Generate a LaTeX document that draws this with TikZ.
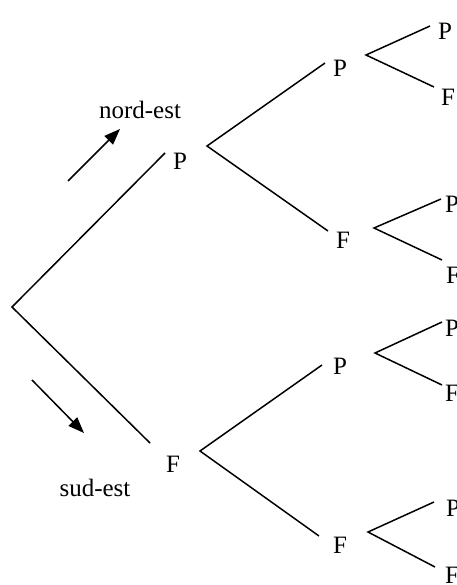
\documentclass[tikz,border=0pt]{standalone}
\usepackage{fontspec}
\setmainfont{Liberation Serif}
\usetikzlibrary{arrows.meta}
\begin{document}
\begin{tikzpicture}[x=1pt,y=-1pt,
  lbl/.style={inner sep=0pt,font=\fontsize{25}{30}\selectfont},
  branch/.style={line width=1.5pt},
  dirarrow/.style={line width=1.5pt,-{Triangle[length=16pt,width=12pt]}}]
\useasboundingbox (0,0) rectangle (456,585);
% root
\coordinate (r) at (12,307);
% level 1
\node[lbl] (P1) at (180,161) {P};
\node[lbl] (F1) at (173,464) {F};
\coordinate (P1in) at (165,153);
\coordinate (P1out) at (207,146);
\coordinate (F1in) at (150,443);
\coordinate (F1out) at (200,451);
% level 2
\node[lbl] (PP) at (340,68) {P};
\node[lbl] (PF) at (343,240) {F};
\node[lbl] (FP) at (340,366) {P};
\node[lbl] (FF) at (340,545) {F};
\coordinate (PPin) at (325,63);
\coordinate (PFin) at (328,231);
\coordinate (FPin) at (322,365);
\coordinate (FFin) at (319,536);
\coordinate (PPout) at (366,55);
\coordinate (PFout) at (374,228);
\coordinate (FPout) at (375,353);
\coordinate (FFout) at (368,532);
% level 3
\node[lbl] (PPP) at (445,31) {P};
\node[lbl] (PPF) at (448,97) {F};
\node[lbl] (PFP) at (452,204) {P};
\node[lbl] (PFF) at (453,275) {F};
\node[lbl] (FPP) at (452,328) {P};
\node[lbl] (FPF) at (452,393) {F};
\node[lbl] (FFP) at (453,508) {P};
\node[lbl] (FFF) at (452,575) {F};
\coordinate (PPPin) at (430,26);
\coordinate (PPFin) at (434,87);
\coordinate (PFPin) at (441,199);
\coordinate (PFFin) at (442,260);
\coordinate (FPPin) at (442,322);
\coordinate (FPFin) at (442,385);
\coordinate (FFPin) at (434,502);
\coordinate (FFFin) at (435,567);
% branches
\draw[branch] (P1in) -- (r) -- (F1in);
\draw[branch] (PPin) -- (P1out) -- (PFin);
\draw[branch] (FPin) -- (F1out) -- (FFin);
\draw[branch] (PPPin) -- (PPout) -- (PPFin);
\draw[branch] (PFPin) -- (PFout) -- (PFFin);
\draw[branch] (FPPin) -- (FPout) -- (FPFin);
\draw[branch] (FFPin) -- (FFout) -- (FFFin);
% direction arrows
\node[lbl] (ne) at (140,110) {nord-est};
\node[lbl] (se) at (95,488) {sud-est};
\coordinate (neA) at (68,181);
\coordinate (neB) at (120,129);
\coordinate (seA) at (32,380);
\coordinate (seB) at (84,433);
\draw[dirarrow] (neA) -- (neB);
\draw[dirarrow] (seA) -- (seB);
\end{tikzpicture}
\end{document}
